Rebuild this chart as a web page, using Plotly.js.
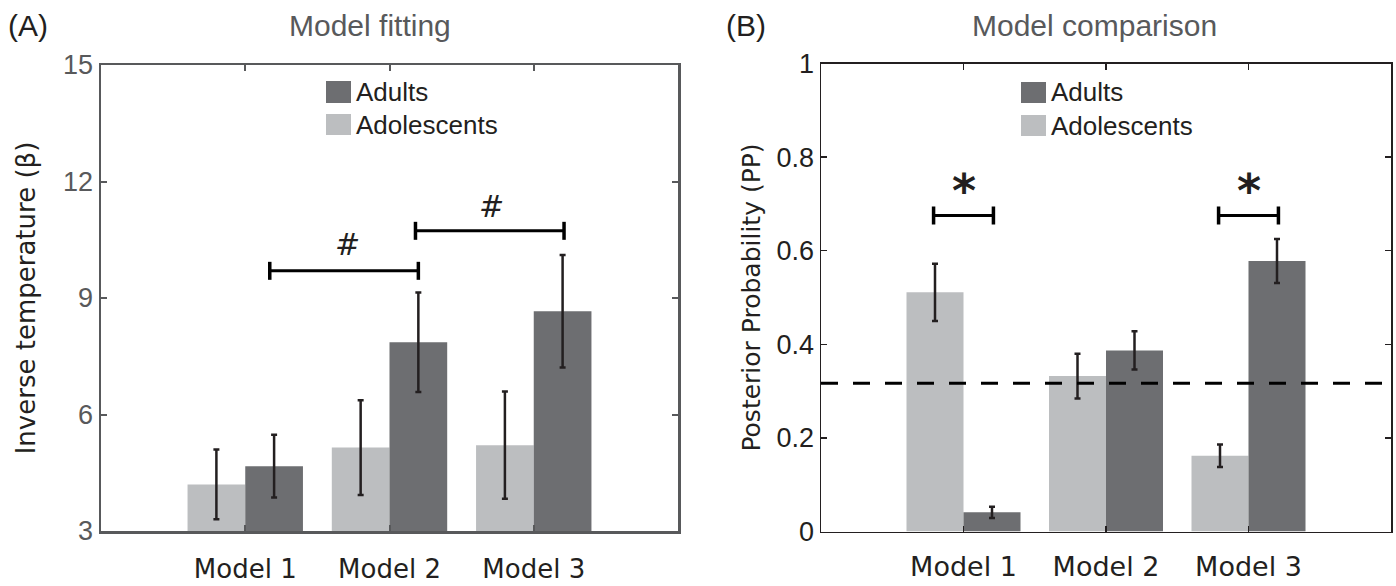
<!DOCTYPE html>
<html>
<head>
<meta charset="utf-8">
<script src="https://cdn.plot.ly/plotly-3.0.1.min.js"></script>
<style>html,body{margin:0;padding:0;background:#fff;}#chart{width:1396px;height:586px;}</style>
</head>
<body>
<div id="chart"></div>
<script>
// ---- data ----
const categories = ['Model 1', 'Model 2', 'Model 3'];
const seriesNames = ['Adults', 'Adolescents'];

// (A) Model fitting: inverse temperature
const fitAdults = [4.67, 7.86, 8.66];
const fitAdultsErr = [0.81, 1.28, 1.45];
const fitAdolescents = [4.20, 5.15, 5.21];
const fitAdolescentsErr = [0.90, 1.22, 1.38];
const fitTicks = [3, 6, 9, 12, 15];

// (B) Model comparison: posterior probability
const ppAdults = [0.041, 0.387, 0.578];
const ppAdultsErr = [0.012, 0.041, 0.047];
const ppAdolescents = [0.511, 0.332, 0.162];
const ppAdolescentsErr = [0.061, 0.048, 0.024];
const ppTicks = [0, 0.2, 0.4, 0.6, 0.8, 1];
const ppTickText = ['0', '0.2', '0.4', '0.6', '0.8', '1'];
const chanceLevel = 0.317;

// significance markers
const hashLabel = '#';
const bracketStartA = [0.17, 1.18];
const bracketEndA = [1.20, 2.21];
const bracketYA = [9.70, 10.73];
const hashXA = [0.71, 1.71];
const hashYA = [10.37, 11.36];

const starLabel = '*';
const bracketStartB = [-0.21, 1.79];
const bracketEndB = [0.21, 2.21];
const bracketYB = [0.675, 0.675];
const starXB = [0, 2];
const starYB = [0.728, 0.728];

// ---- styles ----
const lightColor = '#bcbec0';
const darkColor = '#6d6e71';
const errColor = '#231f20';
const numFont = 'Liberation Sans, Arial, sans-serif';
const geoFont = 'DejaVu Sans, sans-serif';

function barTrace(name, y, err, color, xa, ya) {
  return {
    type: 'bar', name: name, x: categories, y: y,
    marker: {color: color, line: {width: 0}},
    error_y: {type: 'data', array: err, visible: true, color: errColor, thickness: 2.5, width: 3},
    xaxis: xa, yaxis: ya, showlegend: false
  };
}

const traces = [
  barTrace(seriesNames[1], fitAdolescents, fitAdolescentsErr, lightColor, 'x', 'y'),
  barTrace(seriesNames[0], fitAdults, fitAdultsErr, darkColor, 'x', 'y'),
  barTrace(seriesNames[1], ppAdolescents, ppAdolescentsErr, lightColor, 'x2', 'y2'),
  barTrace(seriesNames[0], ppAdults, ppAdultsErr, darkColor, 'x2', 'y2')
];

const shapes = [];
const annotations = [];

function addBrackets(starts, ends, ys, xref, yref) {
  for (let i = 0; i < starts.length; i++) {
    shapes.push({type: 'line', xref: xref, yref: yref, x0: starts[i], x1: ends[i], y0: ys[i], y1: ys[i],
      line: {color: '#000', width: 3}});
    [starts[i], ends[i]].forEach(function (xv) {
      shapes.push({type: 'line', xref: xref, yref: yref, x0: xv, x1: xv,
        ysizemode: 'pixel', yanchor: ys[i], y0: -9, y1: 9, line: {color: '#000', width: 3.5}});
    });
  }
}
addBrackets(bracketStartA, bracketEndA, bracketYA, 'x', 'y');
addBrackets(bracketStartB, bracketEndB, bracketYB, 'x2', 'y2');

hashXA.forEach(function (xv, i) {
  annotations.push({xref: 'x', yref: 'y', x: xv, y: hashYA[i], text: '<i>' + hashLabel + '</i>', showarrow: false,
    font: {family: 'DejaVu Sans, sans-serif', size: 30, color: '#231f20'}});
});
starXB.forEach(function (xv, i) {
  annotations.push({xref: 'x2', yref: 'y2', x: xv, y: starYB[i], text: '<b>' + starLabel + '</b>', showarrow: false,
    font: {family: 'DejaVu Sans, sans-serif', size: 46, color: '#231f20'}});
});

// chance level dashed line
shapes.push({type: 'line', xref: 'x2 domain', yref: 'y2', x0: 0, x1: 1, y0: chanceLevel, y1: chanceLevel,
  line: {color: '#000', width: 3, dash: '17px,15px'}});

// custom legends (big square swatches)
function addLegend(x0px, rows) {
  rows.forEach(function (r) {
    shapes.push({type: 'rect', xref: 'paper', yref: 'paper', x0: x0px / 1396, x1: (x0px + 25) / 1396,
      y0: 1 - r.bot / 586, y1: 1 - r.top / 586, fillcolor: r.color, line: {width: 0}});
    annotations.push({xref: 'paper', yref: 'paper', x: (x0px + 28) / 1396, y: 1 - (r.top + r.bot) / 2 / 586,
      xanchor: 'left', yanchor: 'middle', text: r.name, showarrow: false,
      font: {family: numFont, size: 26, color: '#231f20'}});
  });
}
addLegend(326, [{name: seriesNames[0], color: darkColor, top: 81, bot: 103},
                {name: seriesNames[1], color: lightColor, top: 114, bot: 135}]);
addLegend(1021, [{name: seriesNames[0], color: darkColor, top: 82, bot: 103},
                 {name: seriesNames[1], color: lightColor, top: 115, bot: 136}]);

// panel labels and titles
annotations.push({xref: 'paper', yref: 'paper', x: 6 / 1396, y: 1 - 26 / 586, xanchor: 'left', yanchor: 'middle',
  text: '(A)', showarrow: false, font: {family: numFont, size: 30, color: '#231f20'}});
annotations.push({xref: 'paper', yref: 'paper', x: 370 / 1396, y: 1 - 26 / 586, xanchor: 'center', yanchor: 'middle',
  text: 'Model fitting', showarrow: false, font: {family: numFont, size: 30, color: '#58595b'}});
annotations.push({xref: 'paper', yref: 'paper', x: 724 / 1396, y: 1 - 26 / 586, xanchor: 'left', yanchor: 'middle',
  text: '(B)', showarrow: false, font: {family: numFont, size: 30, color: '#231f20'}});
annotations.push({xref: 'paper', yref: 'paper', x: 1094 / 1396, y: 1 - 26 / 586, xanchor: 'center', yanchor: 'middle',
  text: 'Model comparison', showarrow: false, font: {family: numFont, size: 30, color: '#58595b'}});

const axA = '#58595b';
const axB = '#231f20';

const layout = {
  width: 1396, height: 586,
  margin: {l: 0, r: 0, t: 0, b: 0},
  paper_bgcolor: '#fff', plot_bgcolor: '#fff',
  barmode: 'group', bargap: 0.2, bargroupgap: 0,
  showlegend: false,
  xaxis: {
    domain: [101 / 1396, 678 / 1396], anchor: 'y', type: 'category', range: [-1, 3],
    showline: true, linecolor: axA, linewidth: 2.5, mirror: 'ticks',
    ticks: 'inside', ticklen: 6, tickwidth: 2, tickcolor: axA,
    ticklabelstandoff: 13, showgrid: false, zeroline: false,
    tickfont: {family: geoFont, size: 26, color: '#231f20'}
  },
  yaxis: {
    domain: [1 - 531 / 586, 1 - 65 / 586], anchor: 'x', range: [3, 15],
    tickvals: fitTicks, showline: true, linecolor: axA, linewidth: 2.5, mirror: 'ticks',
    ticks: 'inside', ticklen: 6, tickwidth: 2, tickcolor: axA,
    showgrid: false, zeroline: false,
    tickfont: {family: numFont, size: 27, color: '#58595b'},
    title: {text: 'Inverse temperature (β)', standoff: 20, font: {family: geoFont, size: 26, color: '#231f20'}}
  },
  xaxis2: {
    domain: [821 / 1396, 1391 / 1396], anchor: 'y2', type: 'category', range: [-1, 3],
    showline: true, linecolor: axB, linewidth: 1.5, mirror: 'ticks',
    ticks: 'inside', ticklen: 6, tickwidth: 1.5, tickcolor: axB,
    ticklabelstandoff: 11, showgrid: false, zeroline: false,
    tickfont: {family: geoFont, size: 27, color: '#231f20'}
  },
  yaxis2: {
    domain: [1 - 531.5 / 586, 1 - 63.5 / 586], anchor: 'x2', range: [0, 1],
    tickvals: ppTicks, ticktext: ppTickText, showline: true, linecolor: axB, linewidth: 1.5, mirror: 'ticks',
    ticks: 'inside', ticklen: 6, tickwidth: 1.5, tickcolor: axB,
    showgrid: false, zeroline: false,
    tickfont: {family: numFont, size: 27, color: '#231f20'},
    title: {text: 'Posterior Probability (PP)', standoff: 9, font: {family: geoFont, size: 25, color: '#231f20'}}
  },
  shapes: shapes,
  annotations: annotations
};

Plotly.newPlot('chart', traces, layout, {displayModeBar: false, staticPlot: true});
</script>
</body>
</html>
